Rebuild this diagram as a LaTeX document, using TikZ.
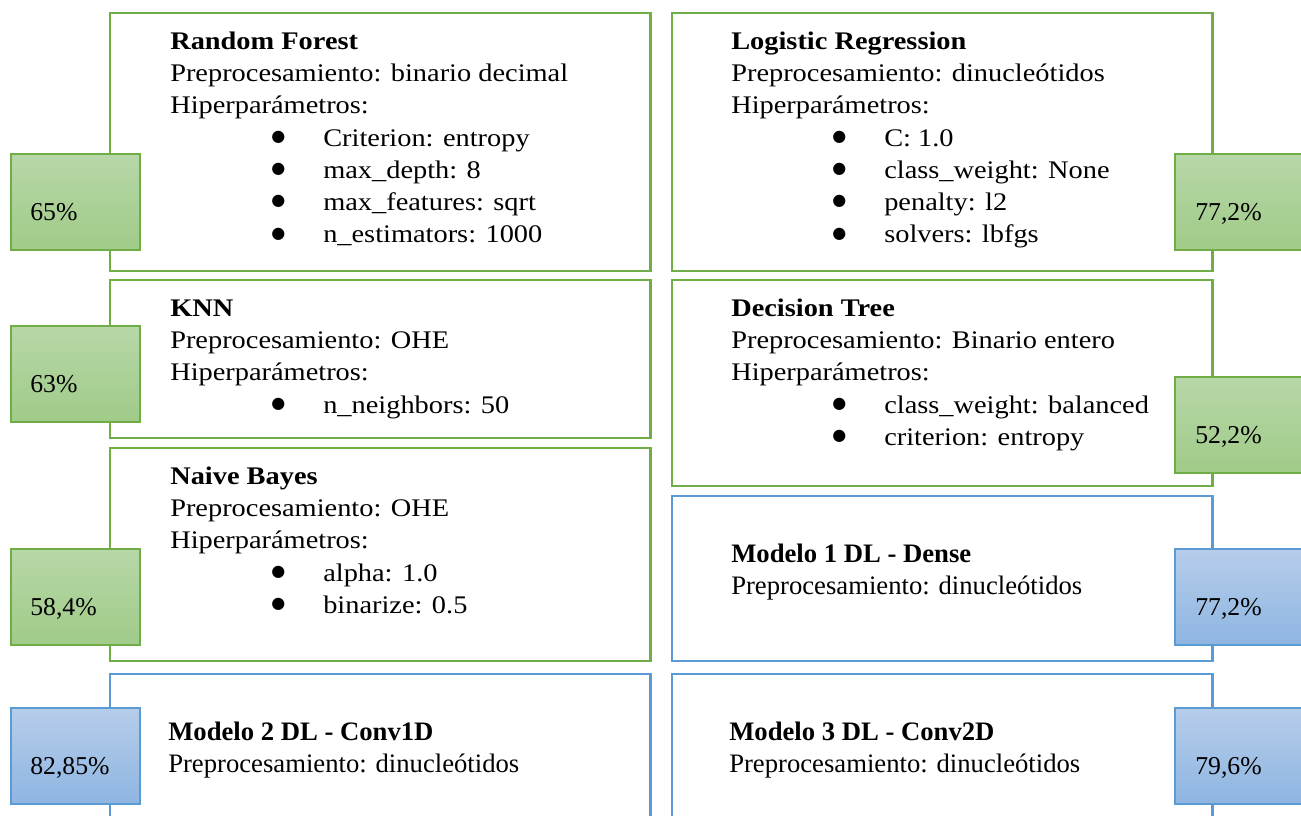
\documentclass[tikz,border=0pt]{standalone}
\usepackage{fontspec}
\setmainfont{Liberation Serif}
\newfontfamily\cardfont{Liberation Serif}[FakeStretch=1.12]
\newfontfamily\dotfont{DejaVu Sans}
\usepackage{xcolor}
\definecolor{mlGreen}{HTML}{70AD47}
\definecolor{mlGreenTop}{RGB}{183,215,168}
\definecolor{mlGreenBot}{RGB}{160,203,136}
\definecolor{dlBlue}{HTML}{5B9BD5}
\definecolor{dlBlueTop}{RGB}{182,205,234}
\definecolor{dlBlueBot}{RGB}{142,181,225}
\usepackage{tikz}
\usetikzlibrary{positioning}
\newcommand{\itm}[1]{\hspace*{81pt}\makebox[0pt][c]{\raisebox{3.6pt}{\dotfont\fontsize{12}{0}\selectfont ●}}\hspace*{33.75pt}#1}

\begin{document}
\begin{tikzpicture}[x=0.75pt, y=-0.75pt,
    card/.style={draw, line width=2.2pt, minimum width=405.5pt, anchor=north west,
                 inner sep=0pt, outer sep=0pt},
    mlcard/.style={card, draw=mlGreen},
    dlcard/.style={card, draw=dlBlue},
    acc/.style={draw, line width=1.1pt, minimum width=96.75pt, minimum height=72pt,
                anchor=north west, inner sep=0pt, outer sep=0pt},
    mlacc/.style={acc, draw=mlGreen, top color=mlGreenTop, bottom color=mlGreenBot},
    dlacc/.style={acc, draw=dlBlue, top color=dlBlueTop, bottom color=dlBlueBot},
    mltxt/.style={anchor=north west, inner sep=0pt, align=left,
                  font=\cardfont\fontsize{19}{24.2}\selectfont},
    dltxt/.style={anchor=north west, inner sep=0pt, align=left,
                  font=\fontsize{20}{24}\selectfont},
    pct/.style={anchor=base west, inner sep=0pt, font=\fontsize{19.3}{23}\selectfont}]
  \fill[white] (0,0) rectangle (1301,815);
  \useasboundingbox (0,0) rectangle (1301,815);
  \node[mlcard, minimum height=193.5pt]  (rf)  at (110,13)  {};
  \node[mlcard, minimum height=193.5pt]  (lr)  at (672,13)  {};
  \node[mlcard, minimum height=118.5pt]  (knn) at (110,280) {};
  \node[mlcard, minimum height=154.5pt]  (dt)  at (672,280) {};
  \node[mlcard, minimum height=159.75pt] (nb)  at (110,448) {};
  \node[dlcard, minimum height=123.75pt] (m1)  at (672,496) {};
  \node[dlcard, minimum height=120pt]    (m2)  at (110,674) {};
  \node[dlcard, minimum height=120pt]    (m3)  at (672,674) {};
  \node[mltxt] at ([shift={(60,13.4)}]rf.north west) {\strut\textbf{Random Forest}\\
      Preprocesamiento: binario decimal\\ Hiperparámetros:\\
      \itm{Criterion: entropy}\\ \itm{max\_depth: 8}\\
      \itm{max\_features: sqrt}\\ \itm{n\_estimators: 1000}};
  \node[mltxt] at ([shift={(59,13.4)}]lr.north west) {\strut\textbf{Logistic Regression}\\
      Preprocesamiento: dinucleótidos\\ Hiperparámetros:\\
      \itm{C: 1.0}\\ \itm{class\_weight: None}\\
      \itm{penalty: l2}\\ \itm{solvers: lbfgs}};
  \node[mltxt] at ([shift={(60,13.4)}]knn.north west) {\strut\textbf{KNN}\\
      Preprocesamiento: OHE\\ Hiperparámetros:\\ \itm{n\_neighbors: 50}};
  \node[mltxt] at ([shift={(59,13.4)}]dt.north west) {\strut\textbf{Decision Tree}\\
      Preprocesamiento: Binario entero\\ Hiperparámetros:\\
      \itm{class\_weight: balanced}\\ \itm{criterion: entropy}};
  \node[mltxt] at ([shift={(60,13.4)}]nb.north west) {\strut\textbf{Naive Bayes}\\
      Preprocesamiento: OHE\\ Hiperparámetros:\\
      \itm{alpha: 1.0}\\ \itm{binarize: 0.5}};
  \node[dltxt] at ([shift={(59,43.6)}]m1.north west) {\strut\textbf{Modelo 1 DL - Dense}\\
      Preprocesamiento: dinucleótidos};
  \node[dltxt] at ([shift={(58,43.6)}]m2.north west) {\strut\textbf{Modelo 2 DL - Conv1D}\\
      Preprocesamiento: dinucleótidos};
  \node[dltxt] at ([shift={(57,43.6)}]m3.north west) {\strut\textbf{Modelo 3 DL - Conv2D}\\
      Preprocesamiento: dinucleótidos};
  \node[mlacc] (rfacc)  at (11,154)   {};
  \node[mlacc] (knnacc) at (11,326)   {};
  \node[mlacc] (nbacc)  at (11,549)   {};
  \node[dlacc] (m2acc)  at (11,708)   {};
  \node[mlacc] (lracc)  at (1175,154) {};
  \node[mlacc] (dtacc)  at (1175,377) {};
  \node[dlacc] (m1acc)  at (1175,549) {};
  \node[dlacc] (m3acc)  at (1175,708) {};
  \node[pct] at ([shift={(19,66)}]rfacc.north west)  {65\%};
  \node[pct] at ([shift={(19,66)}]knnacc.north west) {63\%};
  \node[pct] at ([shift={(19,66)}]nbacc.north west)  {58,4\%};
  \node[pct] at ([shift={(19,66)}]m2acc.north west)  {82,85\%};
  \node[pct] at ([shift={(20,66)}]lracc.north west)  {77,2\%};
  \node[pct] at ([shift={(20,66)}]dtacc.north west)  {52,2\%};
  \node[pct] at ([shift={(20,66)}]m1acc.north west)  {77,2\%};
  \node[pct] at ([shift={(20,66)}]m3acc.north west)  {79,6\%};
\end{tikzpicture}
\end{document}
